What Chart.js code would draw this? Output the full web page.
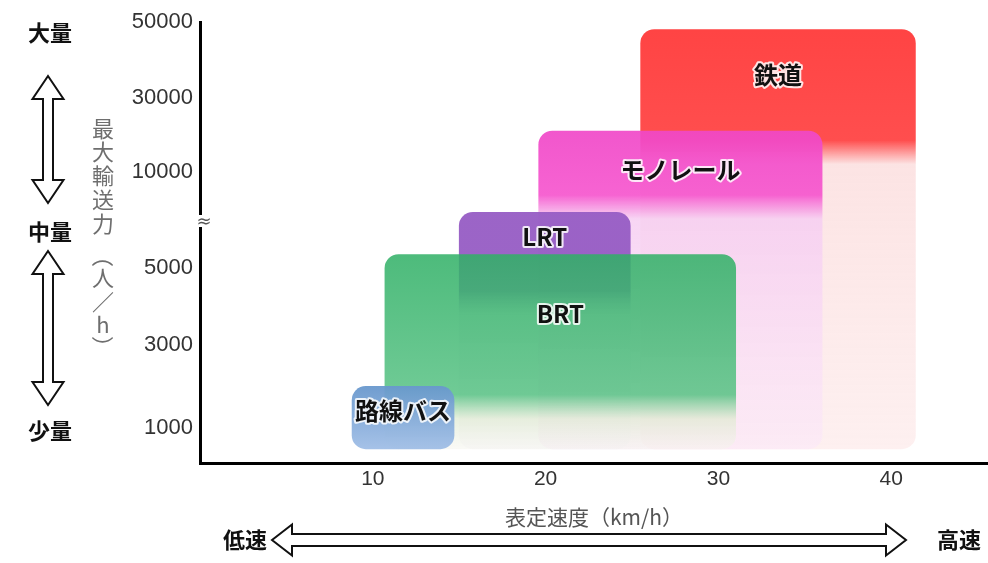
<!DOCTYPE html>
<html lang="ja">
<head>
<meta charset="utf-8">
<title>表定速度と最大輸送力</title>
<script src="https://cdn.jsdelivr.net/npm/chart.js@4/dist/chart.umd.min.js"></script>
<style>
  html, body { margin: 0; padding: 0; background: #ffffff; }
  #wrap { width: 988px; height: 563px; position: relative; }
</style>
</head>
<body>
<div id="wrap"><canvas id="c" width="988" height="563"></canvas></div>
<script>
// ---- axis ticks ----
const SPEED_TICKS = [10, 20, 30, 40];                          // km/h
const CAPACITY_TICKS = [1000, 3000, 5000, 10000, 30000, 50000]; // 人/h
// slot of each capacity tick on the broken (non-linear) vertical axis
const CAPACITY_SLOTS = [0, 1.04, 2, 3.2, 4.13, 5.075];

// ---- transport modes ----
const MODES = ['路線バス', 'BRT', 'LRT', 'モノレール', '鉄道'];
const SPEED_FROM = [8.8, 10.7, 15.0, 19.6, 25.5];
const SPEED_TO = [14.7, 31.0, 24.9, 36.0, 41.4];
const CAPACITY_TOP = [2000, 5700, 7900, 21000, 48000];
const CAPACITY_SOLID = [500, 1800, 4400, 8800, 18500];   // lower end of the solid band
const CAPACITY_BASE = [500, 500, 500, 500, 500];
const LABEL_CAPACITY = [1400, 3800, 6600, 10500, 36000];

// ---- colours (top of band, bottom of solid band, faded part, faded end) ----
const COLOR_TOP = ['rgba(105,152,205,0.95)', 'rgba(48,176,102,0.86)', 'rgba(150,92,196,0.95)', 'rgba(240,72,200,0.92)', 'rgba(255,68,68,1)'];
const COLOR_LOW = ['rgba(160,190,230,0.95)', 'rgba(88,194,132,0.86)', 'rgba(150,92,196,0.95)', 'rgba(246,86,206,0.92)', 'rgba(255,78,78,1)'];
const COLOR_PALE = ['rgba(160,190,230,0.95)', 'rgba(222,234,208,0.7)', 'rgba(228,218,238,0.45)', 'rgba(246,206,242,0.85)', 'rgba(252,226,226,0.95)'];
const COLOR_END = ['rgba(160,190,230,0.95)', 'rgba(244,244,236,0.5)', 'rgba(240,236,244,0.35)', 'rgba(251,232,248,0.65)', 'rgba(253,236,236,0.8)'];

// capacity -> position on the broken vertical axis (piecewise between ticks)
function slot(cap) {
  const t = CAPACITY_TICKS, s = CAPACITY_SLOTS;
  let k = 0;
  while (k < t.length - 2 && cap > t[k + 1]) k++;
  return s[k] + (cap - t[k]) / (t[k + 1] - t[k]) * (s[k + 1] - s[k]);
}

function boxFill(ctx) {
  const chart = ctx.chart;
  const i = ctx.datasetIndex;
  if (!chart.chartArea) return COLOR_TOP[i];
  const y = chart.scales.y;
  const top = y.getPixelForValue(slot(CAPACITY_TOP[i]));
  const solid = y.getPixelForValue(slot(CAPACITY_SOLID[i]));
  const base = y.getPixelForValue(slot(CAPACITY_BASE[i]));
  const h = base - top;
  const f1 = Math.min(1, (solid - top) / h);
  const f2 = Math.min(1, f1 + 24 / h);
  const g = chart.ctx.createLinearGradient(0, top, 0, base);
  g.addColorStop(0, COLOR_TOP[i]);
  g.addColorStop(f1, COLOR_LOW[i]);
  g.addColorStop(f2, COLOR_PALE[i]);
  g.addColorStop(1, COLOR_END[i]);
  return g;
}

function boxWidth(ctx) {
  const xs = ctx.chart.scales.x;
  const i = ctx.datasetIndex;
  return Math.abs(xs.getPixelForValue(SPEED_TO[i]) - xs.getPixelForValue(SPEED_FROM[i]));
}

const datasets = MODES.map((name, i) => ({
  label: name,
  data: [{ x: (SPEED_FROM[i] + SPEED_TO[i]) / 2, y: [slot(CAPACITY_BASE[i]), slot(CAPACITY_TOP[i])] }],
  backgroundColor: boxFill,
  borderWidth: 0,
  borderRadius: 14,
  borderSkipped: false,
  barThickness: boxWidth,
  grouped: false
}));

// white-filled outlined double arrow along an axis
function doubleArrow(ctx, x0, y0, x1, y1, headW, shaftW, headL) {
  const len = Math.hypot(x1 - x0, y1 - y0);
  const ang = Math.atan2(y1 - y0, x1 - x0);
  const hw = headW / 2, sw = shaftW / 2;
  ctx.save();
  ctx.translate(x0, y0);
  ctx.rotate(ang);
  ctx.beginPath();
  ctx.moveTo(0, 0);
  ctx.lineTo(headL, -hw);
  ctx.lineTo(headL, -sw);
  ctx.lineTo(len - headL, -sw);
  ctx.lineTo(len - headL, -hw);
  ctx.lineTo(len, 0);
  ctx.lineTo(len - headL, hw);
  ctx.lineTo(len - headL, sw);
  ctx.lineTo(headL, sw);
  ctx.lineTo(headL, hw);
  ctx.closePath();
  ctx.fillStyle = '#ffffff';
  ctx.fill();
  ctx.lineWidth = 2;
  ctx.lineJoin = 'miter';
  ctx.strokeStyle = '#111111';
  ctx.stroke();
  ctx.restore();
}

const modeLabels = {
  id: 'modeLabels',
  afterDatasetsDraw(chart) {
    const { ctx, scales: { x, y } } = chart;
    ctx.save();
    ctx.font = 'bold 24px "Noto Sans CJK JP", sans-serif';
    ctx.textAlign = 'center';
    ctx.textBaseline = 'middle';
    ctx.lineJoin = 'round';
    MODES.forEach((name, i) => {
      const px = x.getPixelForValue((SPEED_FROM[i] + SPEED_TO[i]) / 2);
      const py = y.getPixelForValue(slot(LABEL_CAPACITY[i]));
      ctx.lineWidth = 4;
      ctx.strokeStyle = 'rgba(255,255,255,0.85)';
      ctx.strokeText(name, px, py);
      ctx.fillStyle = '#111111';
      ctx.fillText(name, px, py);
    });
    ctx.restore();
  }
};

const sideNotes = {
  id: 'sideNotes',
  afterDraw(chart) {
    const { ctx, chartArea } = chart;
    ctx.save();
    ctx.textAlign = 'center';
    ctx.textBaseline = 'middle';

    // volume scale on the left
    ctx.font = 'bold 22px "Noto Sans CJK JP", sans-serif';
    ctx.fillStyle = '#111111';
    ctx.fillText('大量', 50, 33);
    ctx.fillText('中量', 50, 232);
    ctx.fillText('少量', 50, 431);
    doubleArrow(ctx, 48, 76, 48, 203, 31, 10, 23);
    doubleArrow(ctx, 48, 251, 48, 405, 31, 10, 23);

    // speed scale at the bottom
    ctx.fillText('低速', 245, 540);
    ctx.fillText('高速', 959, 540);
    doubleArrow(ctx, 272, 540, 906, 540, 31, 12, 20);

    // vertical axis title, written top to bottom (brackets turned sideways)
    ctx.font = '22px "Noto Sans CJK JP", sans-serif';
    ctx.fillStyle = '#6e6e6e';
    const title = ['最', '大', '輸', '送', '力', '（', '人', '／', 'h', '）'];
    const ys = [129, 152, 176, 200, 224, 256, 278, 302, 325, 347];
    title.forEach((ch, k) => {
      if (ch === '（' || ch === '）') {
        ctx.save();
        ctx.translate(103, ys[k]);
        ctx.rotate(Math.PI / 2);
        ctx.fillText(ch, 0, 0);
        ctx.restore();
      } else {
        ctx.fillText(ch, 103, ys[k]);
      }
    });

    // axis break mark
    ctx.fillStyle = '#ffffff';
    ctx.fillRect(chartArea.left - 8, 215, 16, 12);
    ctx.font = '18px "DejaVu Sans", sans-serif';
    ctx.fillStyle = '#555555';
    ctx.fillText('≈', chartArea.left + 4, 222);
    ctx.restore();
  }
};

new Chart(document.getElementById('c'), {
  type: 'bar',
  data: { datasets },
  options: {
    responsive: false,
    animation: false,
    layout: { padding: { top: 22, right: 0, left: 0, bottom: 0 } },
    plugins: { legend: { display: false }, tooltip: { enabled: false } },
    scales: {
      x: {
        type: 'linear',
        min: 0,
        max: 45.6,
        offset: false,
        grid: { display: false, offset: false, drawTicks: false },
        border: { display: true, color: '#000000', width: 3 },
        afterBuildTicks(scale) { scale.ticks = SPEED_TICKS.map(v => ({ value: v })); },
        afterFit(scale) { scale.height = 100; },
        ticks: {
          autoSkip: false,
          padding: 4,
          color: '#333333',
          font: { family: '"Liberation Sans", Arial, sans-serif', size: 21 }
        },
        title: {
          display: true,
          text: '表定速度（km/h）',
          color: '#555555',
          font: { family: '"Noto Sans CJK JP", sans-serif', size: 21 },
          padding: { top: 0, bottom: 33 }
        }
      },
      y: {
        type: 'linear',
        min: -0.4375,
        max: 5.075,
        grid: { display: false, drawTicks: false },
        border: { display: true, color: '#000000', width: 3 },
        afterBuildTicks(scale) { scale.ticks = CAPACITY_TICKS.map(c => ({ value: slot(c) })); },
        afterFit(scale) { scale.width = 200; },
        ticks: {
          autoSkip: false,
          padding: 7,
          color: '#333333',
          font: { family: '"Liberation Sans", Arial, sans-serif', size: 22 },
          callback: (v, i) => String(CAPACITY_TICKS[i])
        }
      }
    }
  },
  plugins: [modeLabels, sideNotes]
});
</script>
</body>
</html>
